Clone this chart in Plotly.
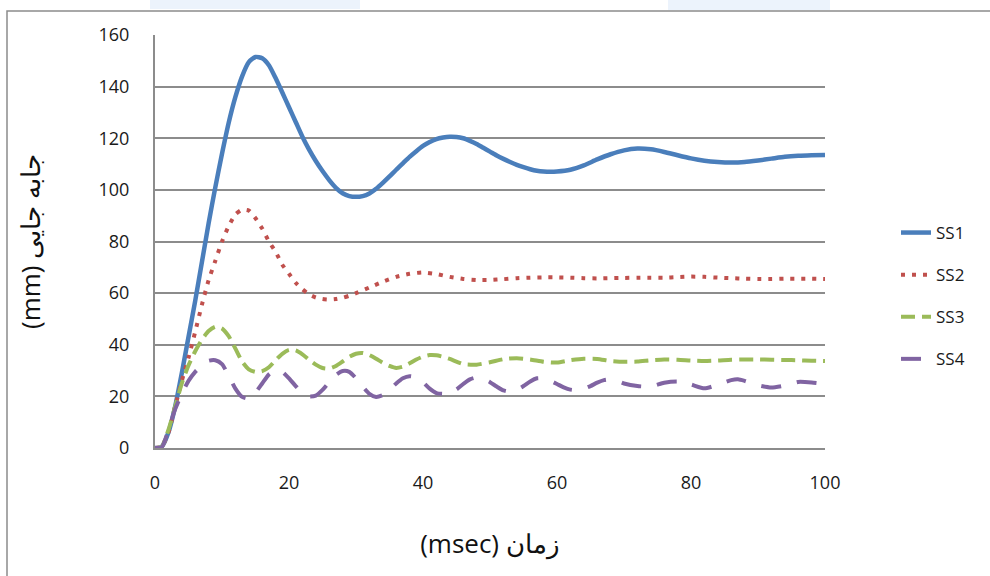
import plotly.graph_objects as go

# ---------------- data ----------------
ss1_x = [0, 1, 2, 3, 4, 5, 6, 7, 8, 9, 10, 11, 12, 13, 14, 15, 16, 17, 18, 19, 20,
         21, 22, 23, 24, 25, 26, 27, 28, 29, 30, 31, 32, 33, 34, 35, 36, 37, 38, 39, 40,
         41, 42, 43, 44, 45, 46, 47, 48, 49, 50, 51, 52, 53, 54, 55, 56, 57, 58, 59, 60,
         62, 64, 66, 68, 70, 72, 74, 76, 78, 80, 82, 84, 86, 88, 90, 92, 94, 96, 98, 100]
ss1_y = [0, 0.5, 6, 16, 29, 43, 57, 72, 87, 101, 114, 126, 136, 144, 149.5, 151.5, 151, 148.3, 143.3, 137.7, 132,
         126.3, 120.6, 115.6, 111.2, 107.3, 103.8, 100.8, 98.7, 97.6, 97.3, 97.6, 98.6, 100.4, 102.7, 105.2, 107.8, 110.3, 112.8, 115, 117,
         118.5, 119.7, 120.3, 120.6, 120.5, 120, 119, 117.8, 116.3, 114.8, 113.3, 112, 110.8, 109.7, 108.8, 108, 107.4, 107.1, 107, 107.1,
         107.8, 109.5, 111.8, 113.8, 115.3, 116, 115.7, 114.7, 113.4, 112.2, 111.3, 110.8, 110.6, 110.8, 111.4, 112.1, 112.8, 113.2, 113.4, 113.5]

ss2_x = [0, 1, 2, 3, 4, 5, 6, 7, 8, 9, 10, 11, 12, 13, 14, 15, 16, 17, 18, 19, 20,
         21, 22, 23, 24, 25, 26, 27, 28, 29, 30, 32, 34, 36, 38, 40, 42, 44, 46, 48, 50,
         52, 54, 56, 58, 60, 62, 64, 66, 68, 70, 72, 74, 76, 78, 80, 82, 84, 86, 88, 90,
         92, 94, 96, 98, 100]
ss2_y = [0, 0.5, 6, 16, 26, 35, 45, 55.5, 65, 72.5, 80, 86, 90.5, 92.3, 92, 89, 85, 80, 76, 71, 67.5,
         64, 61.5, 59.5, 58.3, 57.7, 57.5, 57.7, 58.2, 59, 60, 62.2, 64.4, 66.3, 67.5, 68, 67.4, 66.3, 65.5, 65.1, 65.1,
         65.4, 65.8, 66, 66.1, 66.1, 66, 65.8, 65.7, 65.8, 65.9, 66, 66, 66, 66.2, 66.4, 66.3, 66, 65.8, 65.6, 65.5,
         65.5, 65.6, 65.6, 65.6, 65.5]

ss3_x = [0, 1, 2, 3, 4, 5, 6, 7, 8, 9, 10, 11, 12, 13, 14, 15, 16, 17, 18, 19, 20,
         21, 22, 23, 24, 25, 26, 27, 28, 29, 30, 31, 32, 33, 34, 35, 36, 37, 38, 39, 40,
         41, 42, 43, 44, 46, 48, 50, 52, 54, 56, 58, 60, 62, 64, 66, 68, 70, 72, 74, 76,
         78, 80, 82, 84, 86, 88, 90, 92, 94, 96, 98, 100]
ss3_y = [0, 0.5, 7, 16, 25, 32, 37.5, 42, 45.3, 47, 46.3, 43.3, 38.5, 33.5, 30.5, 29.5, 29.8, 31.3, 34, 36.5, 38,
         37.8, 36.3, 34.2, 32.3, 31, 30.8, 31.8, 33.5, 35.3, 36.5, 36.8, 36, 34.6, 33, 31.8, 31, 31.5, 32.8, 34.3, 35.4,
         36, 35.9, 35.3, 34.5, 32.5, 32.3, 33.2, 34.4, 34.8, 34.3, 33.4, 33.1, 34, 34.6, 34.5, 33.7, 33.4, 33.5, 34, 34.3,
         34.2, 33.9, 33.7, 33.9, 34.2, 34.3, 34.3, 34.2, 34.1, 34, 33.8, 33.7]

ss4_x = [0, 1, 2, 3, 4, 5, 6, 7, 8, 9, 10, 11, 12, 13, 14, 15, 16, 17, 18, 19, 20,
         21, 22, 23, 24, 25, 26, 27, 28, 29, 30, 31, 32, 33, 34, 35, 36, 37, 38, 39, 40,
         41, 42, 43, 44, 45, 46, 47, 48, 49, 50, 51, 52, 53, 54, 55, 56, 57, 58, 59, 60,
         61, 62, 63, 64, 65, 66, 67, 68, 69, 70, 72, 74, 76, 78, 80, 82, 84, 86, 87, 88,
         90, 92, 94, 96, 98, 100]
ss4_y = [0, 0.3, 7, 15, 21, 26, 29.5, 32, 33.8, 34, 32.5, 28, 23, 19.8, 19.2, 21.5, 25, 28.5, 30.2, 29.5, 27,
         24, 21.3, 20, 20.3, 22.5, 25.5, 28.3, 29.8, 29.5, 27, 23.8, 21, 19.8, 20.5, 22.5, 25, 27, 27.8, 27.3, 25.5,
         23, 21.3, 21, 21.5, 22.7, 24.8, 26.6, 27.3, 26.8, 25.5, 23.8, 22.3, 21.8, 22.5, 24, 25.8, 27, 27, 26, 24.8,
         23.5, 22.6, 22.4, 23, 24, 25.3, 26.3, 26.6, 26, 25, 24, 23.8, 25.3, 25.8, 24.6, 23.1, 24.5, 26.3, 26.6, 26,
         24.3, 23.4, 24.2, 25.6, 25.4, 24.8]

series_names = ["SS1", "SS2", "SS3", "SS4"]
y_ticks = [0, 20, 40, 60, 80, 100, 120, 140, 160]
x_ticks = [0, 20, 40, 60, 80, 100]

x_title = "(msec) زمان"
y_title = "(mm) جابه جایی"

# ---------------- styling ----------------
colors = ["#4a7ebb", "#c0504d", "#9bbb59", "#8064a2"]
dashes = ["solid", "4px,7px", "14px,7px", "20px,16px"]
widths = [4.5, 4, 4, 4]
grid_col = "#8c8c8c"

fig = go.Figure()
for name, xs, ys, c, d, w in zip(series_names,
                                 [ss1_x, ss2_x, ss3_x, ss4_x],
                                 [ss1_y, ss2_y, ss3_y, ss4_y],
                                 colors, dashes, widths):
    fig.add_trace(go.Scatter(
        x=xs, y=ys, name=name, mode="lines", legendgroup=name,
        line=dict(color=c, width=w, dash=d, shape="spline", smoothing=0.6),
    ))

# plot area in pixels: x 155..825, y 35..448
L, R, T, B = 155, 165, 35, 128
W, H = 990, 576
pw, ph = W - L - R, H - T - B


def px2x(px):
    return (px - L) / pw


def py2y(py):
    return (H - B - py) / ph


tick_font = dict(family="Open Sans, sans-serif", size=18, color="#1a1a1a")
title_font = dict(family="Open Sans, sans-serif", size=26, color="#111")

fig.update_layout(
    width=W, height=H,
    margin=dict(l=L, r=R, t=T, b=B, pad=0),
    paper_bgcolor="white", plot_bgcolor="white",
    font=dict(family="Open Sans, sans-serif", color="#1a1a1a"),
    showlegend=True,
    legend=dict(
        x=px2x(896), y=py2y(215), xanchor="left", yanchor="top",
        font=dict(family="Open Sans, sans-serif", size=17, color="#1a1a1a"),
        tracegroupgap=17, bgcolor="rgba(0,0,0,0)", itemwidth=30,
    ),
    xaxis=dict(
        range=[0, 100], tickmode="array", tickvals=x_ticks,
        ticktext=[str(v) for v in x_ticks],
        showgrid=False, zeroline=False,
        showline=True, linecolor=grid_col, linewidth=2,
        ticks="", ticklabelstandoff=17,
        tickfont=tick_font,
        title=dict(text=x_title, standoff=42, font=title_font),
    ),
    yaxis=dict(
        range=[0, 160], tickmode="array", tickvals=y_ticks,
        ticktext=[str(v) for v in y_ticks],
        showgrid=True, gridcolor=grid_col, gridwidth=2, zeroline=False,
        showline=True, linecolor=grid_col, linewidth=2,
        ticks="", ticklabelstandoff=20,
        tickfont=tick_font,
        title=dict(text=y_title, standoff=50, font=title_font),
    ),
    shapes=[
        # outer chart border (extends off the page to the right and bottom)
        dict(type="rect", xref="paper", yref="paper",
             x0=px2x(7), x1=px2x(1010), y0=py2y(600), y1=py2y(11),
             line=dict(color="#8c8c8c", width=1.5), fillcolor="rgba(0,0,0,0)", layer="below"),
        # faint watermark remnants at the very top
        dict(type="rect", xref="paper", yref="paper",
             x0=px2x(150), x1=px2x(360), y0=py2y(9), y1=py2y(0),
             line=dict(width=0), fillcolor="rgba(200,222,245,0.35)", layer="below"),
        dict(type="rect", xref="paper", yref="paper",
             x0=px2x(668), x1=px2x(830), y0=py2y(10), y1=py2y(0),
             line=dict(width=0), fillcolor="rgba(200,222,245,0.35)", layer="below"),
    ],
)

fig.write_html("out.html")
